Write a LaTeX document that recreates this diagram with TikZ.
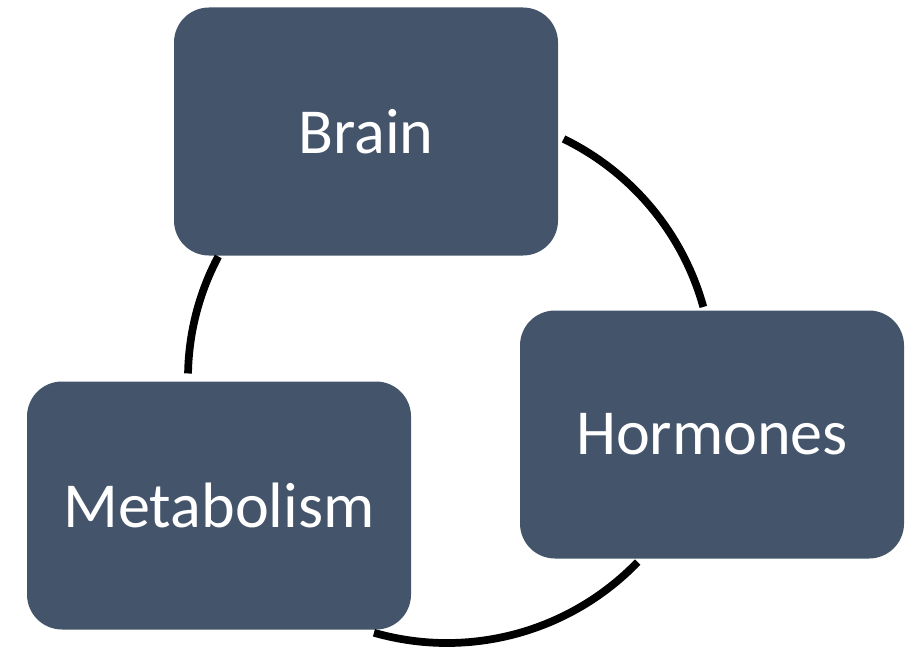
\documentclass[tikz,border=0pt]{standalone}
\usepackage{fontspec}
\setmainfont{Carlito}
\usepackage{xcolor}
\usetikzlibrary{positioning}
\definecolor{slate}{HTML}{44546A}

\begin{document}
\begin{tikzpicture}[
  box/.style={fill=slate, rounded corners=0.7cm, text=white,
              minimum width=7.68cm, minimum height=4.96cm,
              font=\fontsize{36.5}{44}\selectfont, inner sep=0pt},
  link/.style={line width=4.4pt, black}
]
  \useasboundingbox (0,0) rectangle (18.34,12.92);

  % --- cycle boxes
  \node[box] (brain) at (7.32,10.29) {Brain};
  \node[box] (horm)  at (14.24,4.23) {Hormones};
  \node[box] (meta)  at (4.38,2.81)  {Metabolism};

  % --- arcs round the cycle
  \coordinate (ctr) at (8.94,5.36);
  \draw[link] ([shift={(64:5.32)}]ctr) arc[start angle=64, end angle=15.5, radius=5.32];
  \draw[link] ([shift={(-44:5.3)}]ctr) arc[start angle=-44, end angle=-106, radius=5.3];
  \draw[link] ([shift={(179:5.18)}]ctr) arc[start angle=179, end angle=152, radius=5.18];
\end{tikzpicture}
\end{document}
